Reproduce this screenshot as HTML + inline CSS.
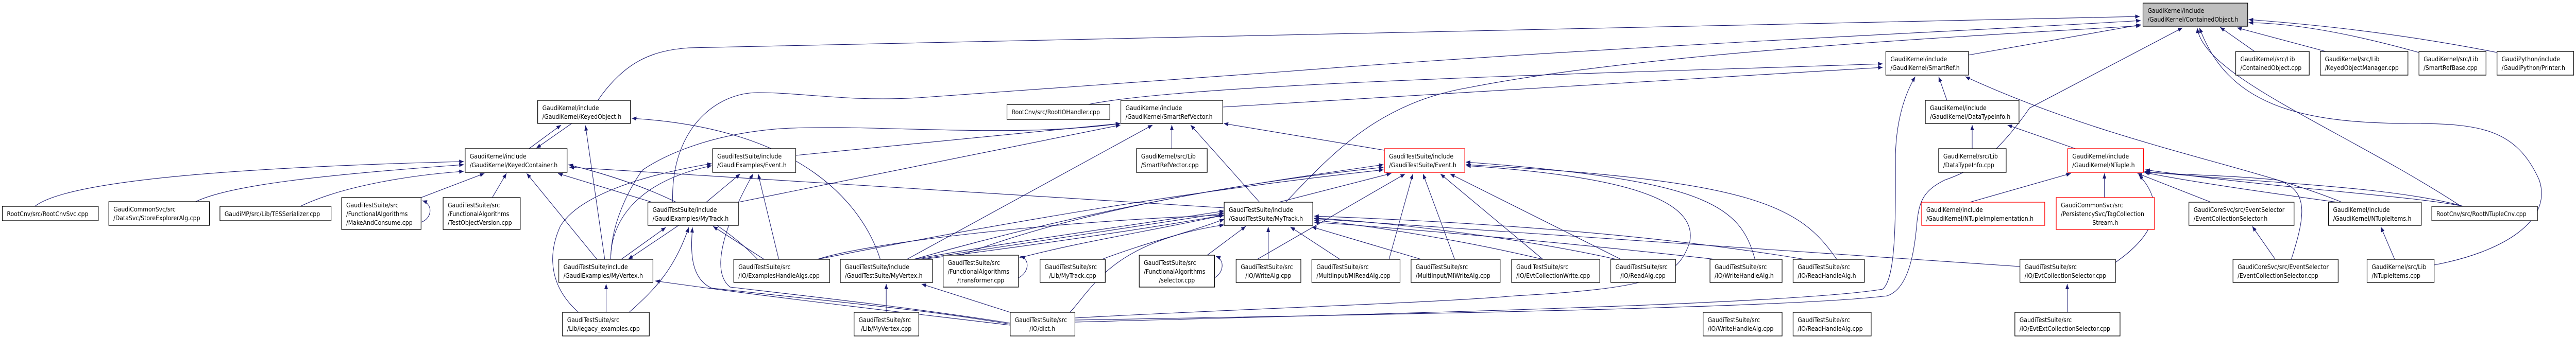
<!DOCTYPE html>
<html><head><meta charset="utf-8"><style>
html,body{margin:0;padding:0;background:#fff;width:100%;height:100%;overflow:hidden;}
svg{display:block;width:100vw;height:100vh;}
text{font-family:"DejaVu Sans","Liberation Sans",sans-serif;font-size:12.3px;fill:#000;}
.b{fill:#fff;stroke:#000;stroke-width:1.3;}
.r{fill:#fff;stroke:#ff0000;stroke-width:1.3;}
.g{fill:#bfbfbf;stroke:#000;stroke-width:1.3;}
.e{fill:none;stroke:#191970;stroke-width:1.1;marker-end:url(#a);}
.m{text-anchor:middle;}
</style></head><body>
<svg viewBox="0 0 5610 655" preserveAspectRatio="none" xmlns="http://www.w3.org/2000/svg">
<defs><marker id="a" markerUnits="userSpaceOnUse" markerWidth="11" markerHeight="8" refX="10" refY="4" orient="auto"><path d="M0,0 L10,4 L0,8 z" fill="#191970"/></marker></defs>

<g>
<path class="e" d="M1302,195 C1360,120 1420,98 1500,93 L4660,32"/>
<path class="e" d="M4287,107 L4662,48"/>
<path class="e" d="M1465,393 C1460,250 1560,180 1650,180 C1750,180 1850,198 2000,190 L2800,139 C3500,90 4300,60 4662,40"/>
<path class="e" d="M2800,393 C2900,300 3000,200 3200,170 C3600,100 4300,70 4662,50"/>
<path class="e" d="M2341,626 C3000,610 3900,592 4100,562 C4130,540 4128,420 4128,300 C4130,230 4150,180 4171,149"/>
<path class="e" d="M2341,622 C3100,610 3900,598 4110,575 C4160,560 4170,480 4175,430 C4180,390 4190,370 4235,350 C4300,330 4350,300 4420,210 L4753,54"/>
<path class="e" d="M5360,401 C5100,250 4800,150 4785,54"/>
<path class="e" d="M5301,515 C5450,490 5560,430 5530,350 C5480,250 5400,240 5250,240 C5000,240 4850,200 4790,54"/>
<path class="e" d="M4910,100 L4835,53"/>
<path class="e" d="M5065,100 L4872,54"/>
<path class="e" d="M5268,102 C5100,60 4980,45 4897,44"/>
<path class="e" d="M5438,102 C5200,60 5000,45 4897,38"/>
<path class="e" d="M2663,208 L4100,131"/>
<path class="e" d="M2370,203 C2600,160 3600,140 4100,124"/>
<path class="e" d="M4240,195 L4222,149"/>
<path class="e" d="M5100,393 C4900,320 4600,280 4280,149"/>
<path class="e" d="M4295,289 L4295,243"/>
<path class="e" d="M4520,289 L4372,243"/>
<path class="e" d="M4290,393 L4510,337"/>
<path class="e" d="M4583,384 L4583,337"/>
<path class="e" d="M4815,393 L4655,337"/>
<path class="e" d="M5090,393 C4900,370 4750,350 4670,335"/>
<path class="e" d="M5365,401 C5200,360 4900,355 4670,333"/>
<path class="e" d="M5365,401 C5250,380 5000,370 4672,330"/>
<path class="e" d="M4607,510 C4720,440 4700,380 4658,340"/>
<path class="e" d="M4990,504 C5020,420 5030,370 4960,350 C4850,340 4750,340 4672,335"/>
<path class="e" d="M4955,504 L4905,440"/>
<path class="e" d="M5215,504 L5185,441"/>
<path class="e" d="M4502,607 L4502,552"/>
<path class="e" d="M4399,518 L2862,425"/>
<path class="e" d="M2785,393 L3030,337"/>
<path class="e" d="M3025,504 L3077,338"/>
<path class="e" d="M2738,504 L3060,338"/>
<path class="e" d="M3168,504 L3099,338"/>
<path class="e" d="M3360,504 L3137,338"/>
<path class="e" d="M3530,504 L3158,338"/>
<path class="e" d="M3822,504 C3790,400 3720,350 3192,315"/>
<path class="e" d="M4000,504 C3920,400 3820,350 3192,320"/>
<path class="e" d="M2341,618 C2700,600 3100,590 3300,575 C3600,560 3655,540 3680,470 C3700,380 3500,340 3193,322"/>
<path class="e" d="M1780,504 C2200,430 2600,370 3013,330"/>
<path class="e" d="M1990,504 C2400,400 2700,360 3013,320"/>
<path class="e" d="M3015,292 L2665,240"/>
<path class="e" d="M2054,510 C2300,420 2650,360 3013,325"/>
<path class="e" d="M2617,504 L2713,440"/>
<path class="e" d="M2762,504 L2762,441"/>
<path class="e" d="M2918,504 L2810,441"/>
<path class="e" d="M3095,504 L2857,441"/>
<path class="e" d="M3360,504 C3200,470 3000,440 2862,428"/>
<path class="e" d="M3520,504 C3300,460 3000,430 2862,424"/>
<path class="e" d="M3735,504 C3400,470 3000,440 2862,432"/>
<path class="e" d="M3930,504 C3500,440 3000,425 2862,420"/>
<path class="e" d="M2208,504 C2350,470 2500,450 2666,418"/>
<path class="e" d="M2400,504 C2500,470 2580,455 2666,426"/>
<path class="e" d="M1990,504 C2200,470 2450,440 2666,410"/>
<path class="e" d="M2000,504 C2200,475 2450,445 2666,414"/>
<path class="e" d="M2010,504 C2220,480 2460,450 2666,418"/>
<path class="e" d="M1780,504 C1900,470 2300,430 2664,418"/>
<path class="e" d="M2330,607 C2380,560 2420,470 2666,437"/>
<path class="e" d="M2666,404 L1240,325"/>
<path class="e" d="M76,401 C120,370 300,330 1010,314"/>
<path class="e" d="M426,392 C500,360 700,340 1010,320"/>
<path class="e" d="M654,401 C750,360 900,340 1010,333"/>
<path class="e" d="M917,384 L1055,337"/>
<path class="e" d="M1072,384 L1103,337"/>
<path class="e" d="M917,432 C940,425 945,398 920,390"/>
<path class="e" d="M1300,504 L1147,337"/>
<path class="e" d="M1317,504 L1275,244"/>
<path class="e" d="M1152,289 L1222,243"/>
<path class="e" d="M1245,240 L1168,288"/>
<path class="e" d="M1420,393 L1215,337"/>
<path class="e" d="M1650,504 C1560,420 1420,360 1238,320"/>
<path class="e" d="M1917,504 C1880,400 1750,250 1376,230"/>
<path class="e" d="M1330,504 C1330,420 1390,340 1400,330 C1450,300 1550,260 1700,250 C1900,240 2200,270 2440,240"/>
<path class="e" d="M1538,393 L1612,338"/>
<path class="e" d="M1696,504 L1651,338"/>
<path class="e" d="M1733,302 L2440,240"/>
<path class="e" d="M1608,393 L2440,243"/>
<path class="e" d="M1975,504 L2510,243"/>
<path class="e" d="M2743,393 L2593,243"/>
<path class="e" d="M2552,289 L2552,243"/>
<path class="e" d="M1664,504 L1553,440"/>
<path class="e" d="M1353,504 L1450,442"/>
<path class="e" d="M1478,438 L1368,504"/>
<path class="e" d="M1320,607 L1320,552"/>
<path class="e" d="M1260,607 C1200,560 1190,500 1220,440 C1260,380 1400,340 1550,318"/>
<path class="e" d="M1370,607 C1430,560 1470,520 1500,442"/>
<path class="e" d="M1330,504 C1330,420 1400,350 1550,322"/>
<path class="e" d="M2200,630 C2000,600 1850,590 1550,560 C1500,540 1505,480 1508,442"/>
<path class="e" d="M2200,628 C2000,600 1850,585 1590,558 C1550,530 1570,450 1640,338"/>
<path class="e" d="M2200,632 C1900,600 1700,580 1427,546"/>
<path class="e" d="M2200,607 L2007,552"/>
<path class="e" d="M1930,607 L1930,552"/>
<path class="e" d="M2218,540 C2240,530 2245,505 2222,498"/>
<path class="e" d="M2645,540 C2665,530 2668,505 2648,498"/>
</g>

<g>
<rect class="g" x="4667" y="6" width="228" height="45"/><text x="4677" y="25">GaudiKernel/include</text><text x="4677" y="42">/GaudiKernel/ContainedObject.h</text>
<rect class="b" x="1171" y="195" width="202" height="45"/><text x="1181" y="214">GaudiKernel/include</text><text x="1181" y="231">/GaudiKernel/KeyedObject.h</text>
<rect class="b" x="1013" y="289" width="222" height="46"/><text x="1023" y="308">GaudiKernel/include</text><text x="1023" y="325">/GaudiKernel/KeyedContainer.h</text>
<rect class="b" x="5" y="401" width="209" height="28"/><text x="15" y="420">RootCnv/src/RootCnvSvc.cpp</text>
<rect class="b" x="237" y="392" width="219" height="46"/><text x="247" y="411">GaudiCommonSvc/src</text><text x="247" y="428">/DataSvc/StoreExplorerAlg.cpp</text>
<rect class="b" x="479" y="401" width="242" height="28"/><text x="489" y="420">GaudiMP/src/Lib/TESSerializer.cpp</text>
<rect class="b" x="744" y="384" width="173" height="62"/><text x="754" y="403">GaudiTestSuite/src</text><text x="754" y="420">/FunctionalAlgorithms</text><text x="754" y="437">/MakeAndConsume.cpp</text>
<rect class="b" x="965" y="384" width="168" height="62"/><text x="975" y="403">GaudiTestSuite/src</text><text x="975" y="420">/FunctionalAlgorithms</text><text x="975" y="437">/TestObjectVersion.cpp</text>
<rect class="b" x="1217" y="504" width="205" height="45"/><text x="1227" y="523">GaudiTestSuite/include</text><text x="1227" y="540">/GaudiExamples/MyVertex.h</text>
<rect class="b" x="1225" y="607" width="189" height="46"/><text x="1235" y="626">GaudiTestSuite/src</text><text x="1235" y="643">/Lib/legacy_examples.cpp</text>
<rect class="b" x="2193" y="203" width="224" height="29"/><text x="2203" y="222">RootCnv/src/RootIOHandler.cpp</text>
<rect class="b" x="2441" y="195" width="222" height="45"/><text x="2451" y="214">GaudiKernel/include</text><text x="2451" y="231">/GaudiKernel/SmartRefVector.h</text>
<rect class="b" x="2475" y="289" width="154" height="46"/><text x="2485" y="308">GaudiKernel/src/Lib</text><text x="2485" y="325">/SmartRefVector.cpp</text>
<rect class="b" x="1552" y="289" width="181" height="46"/><text x="1562" y="308">GaudiTestSuite/include</text><text x="1562" y="325">/GaudiExamples/Event.h</text>
<rect class="b" x="1411" y="393" width="197" height="45"/><text x="1421" y="412">GaudiTestSuite/include</text><text x="1421" y="429">/GaudiExamples/MyTrack.h</text>
<rect class="b" x="1598" y="504" width="209" height="45"/><text x="1608" y="523">GaudiTestSuite/src</text><text x="1608" y="540">/IO/ExamplesHandleAlgs.cpp</text>
<rect class="b" x="1830" y="504" width="201" height="45"/><text x="1840" y="523">GaudiTestSuite/include</text><text x="1840" y="540">/GaudiTestSuite/MyVertex.h</text>
<rect class="b" x="2054" y="496" width="164" height="62"/><text x="2064" y="515">GaudiTestSuite/src</text><text x="2064" y="532">/FunctionalAlgorithms</text><text class="m" x="2136" y="549">/transformer.cpp</text>
<rect class="b" x="2265" y="504" width="142" height="45"/><text x="2275" y="523">GaudiTestSuite/src</text><text class="m" x="2336" y="540">/Lib/MyTrack.cpp</text>
<rect class="b" x="2481" y="496" width="164" height="62"/><text x="2491" y="515">GaudiTestSuite/src</text><text x="2491" y="532">/FunctionalAlgorithms</text><text class="m" x="2563" y="549">/selector.cpp</text>
<rect class="b" x="2692" y="504" width="141" height="45"/><text x="2702" y="523">GaudiTestSuite/src</text><text class="m" x="2762" y="540">/IO/WriteAlg.cpp</text>
<rect class="b" x="2666" y="393" width="193" height="45"/><text x="2676" y="412">GaudiTestSuite/include</text><text x="2676" y="429">/GaudiTestSuite/MyTrack.h</text>
<rect class="b" x="1860" y="607" width="141" height="46"/><text x="1870" y="626">GaudiTestSuite/src</text><text class="m" x="1930" y="643">/Lib/MyVertex.cpp</text>
<rect class="b" x="2200" y="607" width="141" height="46"/><text x="2210" y="626">GaudiTestSuite/src</text><text class="m" x="2270" y="643">/IO/dict.h</text>
<rect class="b" x="2857" y="504" width="192" height="45"/><text x="2867" y="523">GaudiTestSuite/src</text><text x="2867" y="540">/MultiInput/MIReadAlg.cpp</text>
<rect class="b" x="3073" y="504" width="194" height="45"/><text x="3083" y="523">GaudiTestSuite/src</text><text x="3083" y="540">/MultiInput/MIWriteAlg.cpp</text>
<rect class="b" x="3292" y="504" width="192" height="45"/><text x="3302" y="523">GaudiTestSuite/src</text><text x="3302" y="540">/IO/EvtCollectionWrite.cpp</text>
<rect class="b" x="3508" y="504" width="141" height="45"/><text x="3518" y="523">GaudiTestSuite/src</text><text class="m" x="3578" y="540">/IO/ReadAlg.cpp</text>
<rect class="b" x="3724" y="504" width="157" height="45"/><text x="3734" y="523">GaudiTestSuite/src</text><text x="3734" y="540">/IO/WriteHandleAlg.h</text>
<rect class="b" x="3905" y="504" width="155" height="45"/><text x="3915" y="523">GaudiTestSuite/src</text><text x="3915" y="540">/IO/ReadHandleAlg.h</text>
<rect class="b" x="3709" y="607" width="172" height="46"/><text x="3719" y="626">GaudiTestSuite/src</text><text x="3719" y="643">/IO/WriteHandleAlg.cpp</text>
<rect class="b" x="3905" y="607" width="170" height="46"/><text x="3915" y="626">GaudiTestSuite/src</text><text x="3915" y="643">/IO/ReadHandleAlg.cpp</text>
<rect class="r" x="3015" y="289" width="175" height="46"/><text x="3025" y="308">GaudiTestSuite/include</text><text x="3025" y="325">/GaudiTestSuite/Event.h</text>
<rect class="b" x="4107" y="100" width="180" height="46"/><text x="4117" y="119">GaudiKernel/include</text><text x="4117" y="136">/GaudiKernel/SmartRef.h</text>
<rect class="b" x="4193" y="195" width="204" height="45"/><text x="4203" y="214">GaudiKernel/include</text><text x="4203" y="231">/GaudiKernel/DataTypeInfo.h</text>
<rect class="b" x="4222" y="289" width="147" height="46"/><text x="4232" y="308">GaudiKernel/src/Lib</text><text x="4232" y="325">/DataTypeInfo.cpp</text>
<rect class="r" x="4503" y="289" width="165" height="46"/><text x="4513" y="308">GaudiKernel/include</text><text x="4513" y="325">/GaudiKernel/NTuple.h</text>
<rect class="r" x="4185" y="393" width="268" height="45"/><text x="4195" y="412">GaudiKernel/include</text><text x="4195" y="429">/GaudiKernel/NTupleImplementation.h</text>
<rect class="r" x="4478" y="384" width="214" height="62"/><text x="4488" y="403">GaudiCommonSvc/src</text><text x="4488" y="420">/PersistencySvc/TagCollection</text><text class="m" x="4585" y="437">Stream.h</text>
<rect class="b" x="4767" y="393" width="229" height="45"/><text x="4777" y="412">GaudiCoreSvc/src/EventSelector</text><text x="4777" y="429">/EventCollectionSelector.h</text>
<rect class="b" x="5071" y="393" width="202" height="45"/><text x="5081" y="412">GaudiKernel/include</text><text x="5081" y="429">/GaudiKernel/NTupleItems.h</text>
<rect class="b" x="5296" y="401" width="230" height="28"/><text x="5306" y="420">RootCnv/src/RootNTupleCnv.cpp</text>
<rect class="b" x="4399" y="504" width="208" height="45"/><text x="4409" y="523">GaudiTestSuite/src</text><text x="4409" y="540">/IO/EvtCollectionSelector.cpp</text>
<rect class="b" x="4388" y="607" width="229" height="46"/><text x="4398" y="626">GaudiTestSuite/src</text><text x="4398" y="643">/IO/EvtExtCollectionSelector.cpp</text>
<rect class="b" x="4863" y="504" width="229" height="45"/><text x="4873" y="523">GaudiCoreSvc/src/EventSelector</text><text x="4873" y="540">/EventCollectionSelector.cpp</text>
<rect class="b" x="5155" y="504" width="146" height="45"/><text x="5165" y="523">GaudiKernel/src/Lib</text><text x="5165" y="540">/NTupleItems.cpp</text>
<rect class="b" x="4869" y="100" width="160" height="46"/><text x="4879" y="119">GaudiKernel/src/Lib</text><text x="4879" y="136">/ContainedObject.cpp</text>
<rect class="b" x="5053" y="100" width="191" height="46"/><text x="5063" y="119">GaudiKernel/src/Lib</text><text x="5063" y="136">/KeyedObjectManager.cpp</text>
<rect class="b" x="5268" y="100" width="146" height="46"/><text x="5278" y="119">GaudiKernel/src/Lib</text><text x="5278" y="136">/SmartRefBase.cpp</text>
<rect class="b" x="5438" y="100" width="167" height="46"/><text x="5448" y="119">GaudiPython/include</text><text x="5448" y="136">/GaudiPython/Printer.h</text>
</g>
</svg>
</body></html>
